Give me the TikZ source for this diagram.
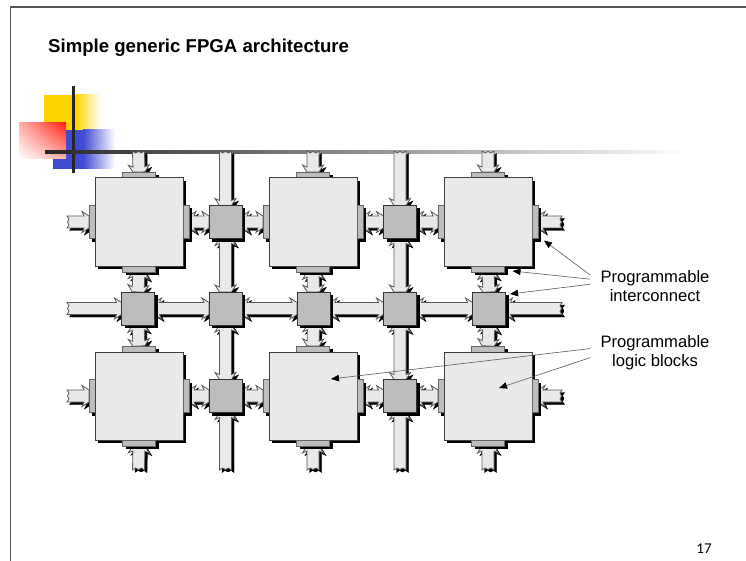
\documentclass[tikz,border=0pt]{standalone}
\usepackage{fontspec}
\setmainfont{Liberation Sans}
\newfontfamily\numfont{Carlito}
\usetikzlibrary{arrows.meta,backgrounds,calc,shadings,shadows}
\definecolor{blockfill}{HTML}{E9E9E9}
\definecolor{switchfill}{HTML}{BDBDBD}
\definecolor{framegray}{HTML}{555555}
\definecolor{decoyellow}{HTML}{FFD500}
\definecolor{decoblue}{HTML}{3F4BD2}
\definecolor{decored}{HTML}{FF2010}
\tikzset{
    offset shadow/.style = {drop shadow = {shadow xshift = 3pt, shadow yshift = -3pt, fill = black, opacity = 1}},
    logicblock/.style = {draw = black!75, line width = 1pt, fill = blockfill, minimum size = 88pt, inner sep = 0pt, outer sep = 0pt, offset shadow},
    switchblock/.style = {draw = black!80, line width = 1pt, fill = switchfill, minimum size = 33pt, inner sep = 0pt, outer sep = 0pt, offset shadow},
    pinbar/.style = {draw = black!60, line width = .8pt, fill = switchfill, inner sep = 0pt, outer sep = 0pt, offset shadow},
    pinwide/.style = {pinbar, minimum width = 33pt, minimum height = 6pt},
    pintall/.style = {pinbar, minimum width = 6pt, minimum height = 33pt},
    busbody/.style = {draw = black!65, line width = .8pt, fill = blockfill, line join = miter},
    busshadow/.style = {draw = black, line width = .4pt, fill = black},
    notearrow/.style = {draw = black!65, line width = .6pt, -{Triangle[length = 8pt, width = 6.5pt, color = black]}},
    notelabel/.style = {align = center, font = \fontsize{16.6}{19}\selectfont, inner sep = 0pt}
}
% tail of a bus: a head, or a cut end
\newcommand{\headtail}{(5,6) -- (7,10.5) -- (0,6) -- (0,-6) -- (7,-10.5) -- (5,-6)}
\newcommand{\cuttail}{(0,6) -- (2,3) -- (.5,0) -- (2,-3) -- (0,-6)}
\newcommand{\busarrow}[3]{
    \foreach \s/\dx/\dy in {busshadow/2.5/-2.5, busbody/0/0}{
        \draw[\s] let \p1 = ($(#3)-(#2)$), \n1 = {veclen(\x1,\y1)}, \n2 = {atan2(\y1,\x1)} in
            {[shift = {(#2)}, xshift = \dx pt, yshift = \dy pt, rotate = \n2]
            #1 -- (\n1-5pt,-6) -- (\n1-7pt,-10.5) -- (\n1,-6) -- (\n1,6) -- (\n1-7pt,10.5) -- (\n1-5pt,6) -- cycle};
    }
}
\begin{document}
\begin{tikzpicture}[x = 1pt, y = -1pt]
    \useasboundingbox (0, 0) rectangle (746, 561);
    % logic blocks and switches
    \foreach \n/\x/\y in {b11/139/222, b12/313/222, b13/488/222, b21/139/396, b22/313/396, b23/488/396}{
        \node[pinwide] (\n t) at (\x, \y - 47) {};
        \node[pintall] (\n l) at (\x - 47, \y) {};
        \node[logicblock] (\n) at (\x, \y) {};
        \node[pinwide, anchor = north] (\n b) at (\n.south) {};
        \node[pintall, anchor = west] (\n r) at (\n.east) {};
    }
    \foreach \n/\x/\y in {s12/225.5/222, s14/400/222, s21/138/308.5, s22/225.5/308.5, s23/313.5/308.5, s24/400/308.5, s25/489/308.5, s32/225.5/396, s34/400/396}{
        \node[switchblock] (\n) at (\x, \y) {};
    }
    % free ends of the buses
    \foreach \n/\x/\y in {t1/138.5/151, t2/225.5/151, t3/313/151, t4/400/151, t5/488/151,
        d1/138.5/470, d2/225.5/470, d3/313/470, d4/400/470, d5/488/470,
        l1/67/222, l2/67/308.5, l3/67/396, r1/562/222, r2/562/308.5, r3/562/396}{
        \coordinate (\n) at (\x, \y);
    }
    \begin{pgfonlayer}{background}
        \fill[decoyellow] (44, 95) rectangle (76, 130);
        \shade[left color = decoyellow, right color = white] (76, 95) rectangle (100, 130);
        \fill[decoblue] (53, 130) rectangle (83, 169);
        \shade[left color = decoblue, right color = white] (83, 130) rectangle (115, 169);
        \shade[upper right = decored, lower left = white, upper left = decored!35, lower right = decored!35] (19, 123) rectangle (66, 159);
        \fill[black!85] (71.5, 86) rectangle (74.5, 173);
        \shade[left color = black!85, right color = white] (45, 151) rectangle (690, 154);
        % horizontal buses
        \busarrow{\cuttail}{l1}{b11l.west}
        \busarrow{\headtail}{b11r.east}{s12.west}
        \busarrow{\headtail}{s12.east}{b12l.west}
        \busarrow{\headtail}{b12r.east}{s14.west}
        \busarrow{\headtail}{s14.east}{b13l.west}
        \busarrow{\cuttail}{r1}{b13r.east}
        \busarrow{\cuttail}{l2}{s21.west}
        \busarrow{\headtail}{s21.east}{s22.west}
        \busarrow{\headtail}{s22.east}{s23.west}
        \busarrow{\headtail}{s23.east}{s24.west}
        \busarrow{\headtail}{s24.east}{s25.west}
        \busarrow{\cuttail}{r2}{s25.east}
        \busarrow{\cuttail}{l3}{b21l.west}
        \busarrow{\headtail}{b21r.east}{s32.west}
        \busarrow{\headtail}{s32.east}{b22l.west}
        \busarrow{\headtail}{b22r.east}{s34.west}
        \busarrow{\headtail}{s34.east}{b23l.west}
        \busarrow{\cuttail}{r3}{b23r.east}
        % vertical buses
        \busarrow{\cuttail}{t1}{b11t.north}
        \busarrow{\headtail}{b11b.south}{s21.north}
        \busarrow{\headtail}{s21.south}{b21t.north}
        \busarrow{\cuttail}{d1}{b21b.south}
        \busarrow{\cuttail}{t2}{s12.north}
        \busarrow{\headtail}{s12.south}{s22.north}
        \busarrow{\headtail}{s22.south}{s32.north}
        \busarrow{\cuttail}{d2}{s32.south}
        \busarrow{\cuttail}{t3}{b12t.north}
        \busarrow{\headtail}{b12b.south}{s23.north}
        \busarrow{\headtail}{s23.south}{b22t.north}
        \busarrow{\cuttail}{d3}{b22b.south}
        \busarrow{\cuttail}{t4}{s14.north}
        \busarrow{\headtail}{s14.south}{s24.north}
        \busarrow{\headtail}{s24.south}{s34.north}
        \busarrow{\cuttail}{d4}{s34.south}
        \busarrow{\cuttail}{t5}{b13t.north}
        \busarrow{\headtail}{b13b.south}{s25.north}
        \busarrow{\headtail}{s25.south}{b23t.north}
        \busarrow{\cuttail}{d5}{b23b.south}
    \end{pgfonlayer}
    \draw[framegray, line width = 1.4pt] (10.5, 561) -- (10.5, 7) -- (746, 7);
    \node[anchor = base west, inner sep = 0pt, font = \fontsize{18.6}{22}\bfseries] (title) at (48, 53) {Simple generic FPGA architecture};
    \node[notelabel] (interconnect) at (655, 286) {Programmable\\interconnect};
    \node[notelabel] (logicnote) at (655, 353) {Programmable\\logic blocks};
    \node[anchor = base, inner sep = 0pt, font = \fontsize{15}{17}\numfont] (pagenum) at (704, 553) {17};
    \foreach \n/\x/\y in {c1/544/240.5, c2/512.5/271, c3/510/294, c4/331/379, c5/499/388}{
        \coordinate (\n) at (\x, \y);
    }
    \draw[notearrow] ([xshift = -10pt, yshift = -5pt]interconnect.north west) -- (c1);
    \draw[notearrow] ([xshift = -10pt, yshift = -9pt]interconnect.north west) -- (c2);
    \draw[notearrow] ([xshift = -10pt, yshift = -14pt]interconnect.north west) -- (c3);
    \draw[notearrow] ([xshift = -10pt, yshift = -13pt]logicnote.north west) -- (c4);
    \draw[notearrow] ([xshift = -10pt, yshift = -22pt]logicnote.north west) -- (c5);
\end{tikzpicture}
\end{document}
